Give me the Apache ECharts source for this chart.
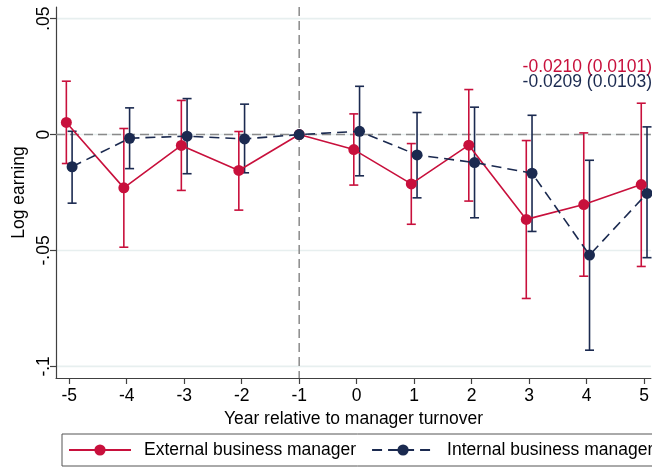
<!DOCTYPE html>
<html>
<head>
<meta charset="utf-8">
<script src="https://cdn.jsdelivr.net/npm/echarts@6/dist/echarts.min.js"></script>
<style>
  html, body { margin: 0; padding: 0; background: #fff; }
  #chart { width: 652px; height: 468px; }
</style>
</head>
<body>
<div id="chart"></div>
<script>
// Event-study estimates: log earning relative to the year before manager turnover
const years = [-5, -4, -3, -2, -1, 0, 1, 2, 3, 4, 5];

const extCoef = [0.0052, -0.0230, -0.0047, -0.0155, 0, -0.0065, -0.0213, -0.0046, -0.0366, -0.0302, -0.0216];
const extLow  = [-0.0125, -0.0486, -0.0241, -0.0326, 0, -0.0218, -0.0387, -0.0287, -0.0707, -0.0611, -0.0569];
const extHigh = [0.0230, 0.0026, 0.0147, 0.0013, 0, 0.0089, -0.0039, 0.0194, -0.0026, 0.0007, 0.0135];

const intCoef = [-0.0139, -0.0016, -0.0007, -0.0019, 0, 0.0014, -0.0088, -0.0121, -0.0167, -0.0520, -0.0254];
const intLow  = [-0.0296, -0.0147, -0.0169, -0.0165, 0, -0.0178, -0.0273, -0.0359, -0.0418, -0.0930, -0.0531];
const intHigh = [0.0014, 0.0115, 0.0155, 0.0131, 0, 0.0208, 0.0095, 0.0118, 0.0083, -0.0111, 0.0033];

const seriesNames = ['External business manager', 'Internal business manager'];
const pooledNotes = ['-0.0210 (0.0101)', '-0.0209 (0.0103)'];

const yTicks = [-0.1, -0.05, 0, 0.05];
const yTickLabels = ['-.1', '-.05', '0', '.05'];
const xTicks = years;

const baseYear = -1;
const xTitle = 'Year relative to manager turnover';
const yTitle = 'Log earning';

// styling
const RED = '#c8103c';
const NAVY = '#1b2a50';
const FONT = '"Liberation Sans", Arial, Helvetica, sans-serif';
const FS = 17.5;
const DODGE = 0.05;   // horizontal offset so the two groups do not overlap

function shiftX(year, d) { return year === baseYear ? year : year + d; }

function pointData(coef, d) {
  return years.map((y, i) => [shiftX(y, d), coef[i]]);
}
function barData(low, high, d) {
  return years.map((y, i) => [shiftX(y, d), low[i], high[i]]);
}

function errorBarRender(color) {
  return function (params, api) {
    const x = api.value(0);
    const lo = api.coord([x, api.value(1)]);
    const hi = api.coord([x, api.value(2)]);
    const cap = 4.5;
    const style = { stroke: color, lineWidth: 1.6 };
    return {
      type: 'group',
      children: [
        { type: 'line', shape: { x1: lo[0], y1: lo[1], x2: hi[0], y2: hi[1] }, style },
        { type: 'line', shape: { x1: hi[0] - cap, y1: hi[1], x2: hi[0] + cap, y2: hi[1] }, style },
        { type: 'line', shape: { x1: lo[0] - cap, y1: lo[1], x2: lo[0] + cap, y2: lo[1] }, style }
      ]
    };
  };
}

const chart = echarts.init(document.getElementById('chart'), null, { renderer: 'canvas' });

const option = {
  animation: false,
  backgroundColor: '#fff',
  textStyle: { fontFamily: FONT },
  grid: { left: 56, right: 0, top: 7, height: 371 },
  xAxis: {
    type: 'value',
    min: -5.23,
    max: 5.117,
    name: xTitle,
    nameLocation: 'middle',
    nameGap: 28,
    nameTextStyle: { fontFamily: FONT, fontSize: FS, color: '#000' },
    axisLine: { onZero: false, lineStyle: { color: '#404040', width: 1.2 } },
    axisTick: { customValues: xTicks, length: 6, lineStyle: { color: '#404040', width: 1.2 } },
    axisLabel: { customValues: xTicks, fontFamily: FONT, fontSize: FS, color: '#000', margin: 9,
                 formatter: v => String(v) },
    splitLine: { show: false }
  },
  yAxis: {
    type: 'value',
    min: -0.105,
    max: 0.055,
    name: yTitle,
    nameLocation: 'middle',
    nameGap: 28,
    nameMoveOverlap: false,
    nameRotate: 90,
    nameTextStyle: { fontFamily: FONT, fontSize: FS, color: '#000' },
    axisLine: { onZero: false, lineStyle: { color: '#404040', width: 1.2 } },
    axisTick: { customValues: yTicks, length: 6, lineStyle: { color: '#404040', width: 1.2 } },
    axisLabel: { customValues: yTicks, rotate: 90, fontFamily: FONT, fontSize: FS, color: '#000', margin: 3,
                 formatter: v => yTickLabels[yTicks.findIndex(t => Math.abs(t - v) < 1e-9)] },
    splitLine: { show: false }
  },
  legend: {
    data: seriesNames,
    left: 62,
    top: 434,
    width: 640,
    orient: 'horizontal',
    itemWidth: 62,
    itemHeight: 14,
    itemGap: 15,
    padding: [7, 30, 7, 6],
    borderColor: '#555',
    borderWidth: 1,
    textStyle: { fontFamily: FONT, fontSize: FS, color: '#000', padding: [0, 0, 0, 8] }
  },
  graphic: [
    { type: 'text', right: 0, top: 58,
      style: { text: pooledNotes[0], fill: RED, font: FS + 'px ' + FONT } },
    { type: 'text', right: 0, top: 73,
      style: { text: pooledNotes[1], fill: NAVY, font: FS + 'px ' + FONT } }
  ],
  series: [
    {
      // horizontal grid lines
      type: 'custom',
      silent: true,
      z: 0,
      data: yTicks.map(v => [v]),
      encode: { y: 0 },
      renderItem: (params, api) => {
        const y = api.coord([0, api.value(0)])[1];
        const cs = params.coordSys;
        return { type: 'line', shape: { x1: cs.x, y1: y, x2: cs.x + cs.width, y2: y },
                 style: { stroke: '#e7efef', lineWidth: 1.6 } };
      }
    },
    {
      // reference lines: zero effect and the base year
      type: 'custom',
      silent: true,
      z: 1,
      data: [[baseYear, 0]],
      encode: { x: 0, y: 1 },
      renderItem: (params, api) => {
        const p = api.coord([api.value(0), api.value(1)]);
        const cs = params.coordSys;
        const style = { stroke: '#8a8a8a', lineWidth: 1.5, lineDash: [9, 5] };
        return { type: 'group', children: [
          { type: 'line', shape: { x1: cs.x, y1: p[1], x2: cs.x + cs.width, y2: p[1] }, style },
          { type: 'line', shape: { x1: p[0], y1: cs.y, x2: p[0], y2: cs.y + cs.height }, style }
        ] };
      }
    },
    {
      type: 'custom',
      name: seriesNames[0] + ' CI',
      z: 2,
      data: barData(extLow, extHigh, -DODGE),
      encode: { x: 0, y: [1, 2] },
      renderItem: errorBarRender(RED)
    },
    {
      type: 'custom',
      name: seriesNames[1] + ' CI',
      z: 2,
      data: barData(intLow, intHigh, DODGE),
      encode: { x: 0, y: [1, 2] },
      renderItem: errorBarRender(NAVY)
    },
    {
      type: 'line',
      name: seriesNames[0],
      z: 3,
      data: pointData(extCoef, -DODGE),
      symbol: 'circle',
      symbolSize: 11,
      showAllSymbol: true,
      color: RED,
      itemStyle: { color: RED },
      lineStyle: { color: RED, width: 1.6 }
    },
    {
      type: 'line',
      name: seriesNames[1],
      z: 4,
      data: pointData(intCoef, DODGE),
      symbol: 'circle',
      symbolSize: 11,
      showAllSymbol: true,
      color: NAVY,
      itemStyle: { color: NAVY },
      lineStyle: { color: NAVY, width: 1.6, type: [10, 6] }
    }
  ]
};

chart.setOption(option);
</script>
</body>
</html>
